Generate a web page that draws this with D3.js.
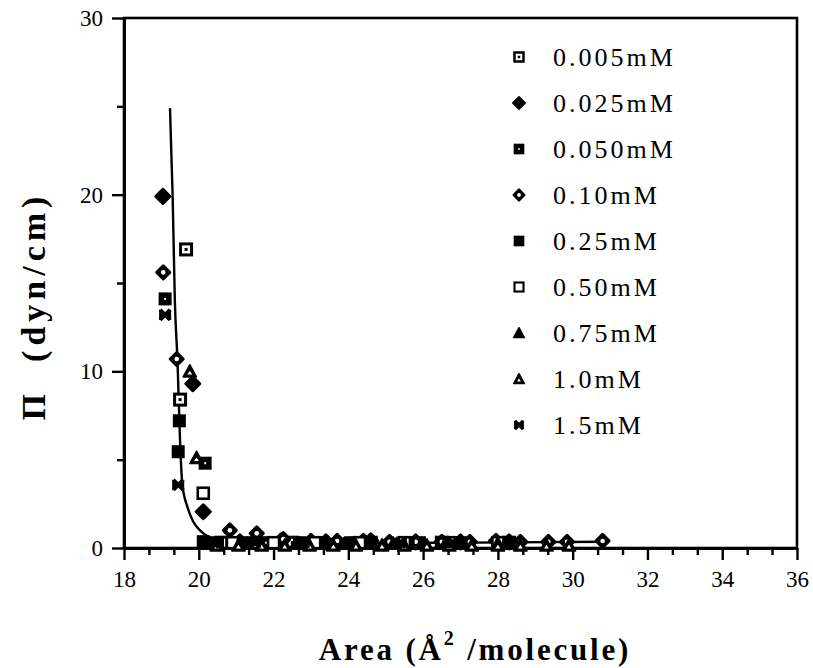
<!DOCTYPE html>
<html>
<head>
<meta charset="utf-8">
<script src="https://cdn.jsdelivr.net/npm/d3@7"></script>
<style>
  html, body { margin: 0; padding: 0; background: #fff; }
  svg { display: block; }
  text { font-family: "Liberation Serif", "Times New Roman", serif; fill: #000; }
</style>
</head>
<body>
<svg id="chart" width="813" height="668"></svg>
<script>
// ---- data ----
const seriesLabels = ["0.005mM","0.025mM","0.050mM","0.10mM","0.25mM","0.50mM","0.75mM","1.0mM","1.5mM"];
const seriesShapes = ["sqdot","diamond","sqfilldot","diamondhole","sqfill","sqopen","trifill","triopen","bowtie"];

const s0005 = [[19.66,16.9],[19.50,8.4],[20.60,0.30],[22.50,0.30],[24.60,0.30],[26.50,0.30],[28.30,0.30]];
const s0025 = [[19.04,19.9],[19.84,9.3],[20.12,2.05],[21.10,0.35],[22.20,0.40],[23.40,0.35],[24.60,0.40],[25.80,0.35],[27.00,0.35],[28.30,0.35]];
const s0050 = [[19.10,14.1],[20.17,4.8],[20.50,0.30],[21.80,0.30],[23.20,0.30],[24.50,0.30],[25.90,0.30],[27.10,0.30],[28.20,0.30]];
const s010  = [[19.05,15.6],[19.41,10.7],[20.83,1.0],[21.55,0.83],[22.26,0.50],[23.00,0.40],[23.70,0.40],[24.40,0.40],[25.10,0.35],[25.80,0.35],[26.50,0.35],[27.25,0.35],[27.95,0.40],[28.60,0.35],[29.35,0.35],[29.85,0.35],[30.80,0.40]];
const s025  = [[19.48,7.2],[19.45,5.45],[20.12,0.36],[21.30,0.30],[22.70,0.30],[24.10,0.30],[25.60,0.30],[26.90,0.30],[28.10,0.30]];
const s050  = [[20.12,3.1],[20.90,0.30],[22.00,0.30],[23.10,0.30],[24.30,0.30],[25.50,0.30],[26.70,0.30],[28.00,0.30]];
const s075  = [[20.30,0.25],[21.30,0.25],[22.60,0.25],[23.90,0.25],[25.20,0.25],[26.60,0.25],[28.00,0.25]];
const s10   = [[19.76,10.0],[19.94,5.1],[20.48,0.15],[21.06,0.15],[21.68,0.15],[22.30,0.15],[22.96,0.15],[23.60,0.15],[24.20,0.15],[24.90,0.15],[25.50,0.15],[26.10,0.15],[26.70,0.15],[27.30,0.15],[28.00,0.15],[28.60,0.15],[29.30,0.15],[29.90,0.15]];
const s15   = [[19.10,13.2],[19.45,3.57],[20.40,0.30],[21.50,0.30],[22.80,0.30],[24.00,0.30],[25.40,0.30],[26.80,0.30]];
const seriesValues = [s0005, s0025, s0050, s010, s025, s050, s075, s10, s15];

// fitted isotherm curve
const fitCurve = [[19.23,24.9],[19.30,20],[19.36,14],[19.43,10.6],[19.50,6.0],[19.56,3.6],[19.70,2.3],[19.85,1.5],[20.03,1.0],[20.25,0.65],[20.50,0.45],[21.0,0.35],[22.0,0.30],[26.0,0.30],[30.9,0.35]];

const xTickLabels = [18,20,22,24,26,28,30,32,34,36];
const yTickLabels = [0,10,20,30];
const yMinorTicks = [5,15,25];

// ---- layout ----
const svg = d3.select("#chart");
const x = d3.scaleLinear().domain([18,36]).range([124,797]);
const y = d3.scaleLinear().domain([0,30]).range([548,18]);

// frame
svg.append("rect")
  .attr("x", x(18)).attr("y", y(30))
  .attr("width", x(36)-x(18)).attr("height", y(0)-y(30))
  .attr("fill","none").attr("stroke","#000").attr("stroke-width",2.6);

// x axis
const xMinor = d3.range(0, 28).map(i => 18 + i*2/3).filter(v => v <= 36.01 && Math.abs(v - Math.round(v/2)*2) > 0.01);
const gxMinor = svg.append("g").attr("transform",`translate(0,${y(0)})`)
  .call(d3.axisBottom(x).tickValues(xMinor).tickSize(7).tickSizeOuter(0).tickFormat(""));
const gx = svg.append("g").attr("transform",`translate(0,${y(0)})`)
  .call(d3.axisBottom(x).tickValues(xTickLabels).tickSize(12).tickSizeOuter(0).tickPadding(10).tickFormat(d3.format("d")));

// y axis
const gyMinor = svg.append("g").attr("transform",`translate(${x(18)},0)`)
  .call(d3.axisLeft(y).tickValues(yMinorTicks).tickSize(7).tickSizeOuter(0).tickFormat(""));
const gy = svg.append("g").attr("transform",`translate(${x(18)},0)`)
  .call(d3.axisLeft(y).tickValues(yTickLabels).tickSize(12).tickSizeOuter(0).tickPadding(9).tickFormat(d3.format("d")));

[gx, gxMinor, gy, gyMinor].forEach(g => {
  g.select(".domain").attr("stroke","#000").attr("stroke-width",2.6);
  g.selectAll(".tick line").attr("stroke","#000").attr("stroke-width",2.4);
  g.selectAll(".tick text").attr("font-family",'"Liberation Serif", serif').attr("font-size",23).attr("fill","#000");
});
gx.selectAll(".tick text").attr("dy","0.75em");

// fitted curve
const line = d3.line().x(d => x(d[0])).y(d => y(d[1])).curve(d3.curveMonotoneX);
svg.append("path").datum(fitCurve).attr("d", line)
  .attr("fill","none").attr("stroke","#000").attr("stroke-width",2.4);

// markers
function drawMarker(g, shape, k) {
  const s = v => v * k;
  switch (shape) {
    case "sqdot":
      g.append("rect").attr("x",s(-5.5)).attr("y",s(-5.5)).attr("width",s(11)).attr("height",s(11))
        .attr("fill","#fff").attr("stroke","#000").attr("stroke-width",s(3));
      g.append("rect").attr("x",s(-1.5)).attr("y",s(-1.5)).attr("width",s(3)).attr("height",s(3)).attr("fill","#000");
      break;
    case "diamond":
      g.append("path").attr("d",`M0,${s(-7)}L${s(7)},0L0,${s(7)}L${s(-7)},0Z`)
        .attr("fill","#000").attr("stroke","#000").attr("stroke-width",s(3)).attr("stroke-linejoin","round");
      break;
    case "sqfilldot":
      g.append("rect").attr("x",s(-6.5)).attr("y",s(-6.5)).attr("width",s(13)).attr("height",s(13)).attr("fill","#000");
      g.append("rect").attr("x",s(-1)).attr("y",s(-1)).attr("width",s(2)).attr("height",s(2)).attr("fill","#fff");
      break;
    case "diamondhole":
      g.append("path").attr("d",`M0,${s(-6.5)}L${s(6.5)},0L0,${s(6.5)}L${s(-6.5)},0Z`)
        .attr("fill","#000").attr("stroke","#000").attr("stroke-width",s(3)).attr("stroke-linejoin","round");
      g.append("circle").attr("r",s(2.3)).attr("fill","#fff");
      break;
    case "sqfill":
      g.append("rect").attr("x",s(-6.5)).attr("y",s(-6.5)).attr("width",s(13)).attr("height",s(13)).attr("fill","#000");
      break;
    case "sqopen":
      g.append("rect").attr("x",s(-5.5)).attr("y",s(-5.5)).attr("width",s(11)).attr("height",s(11))
        .attr("fill","#fff").attr("stroke","#000").attr("stroke-width",s(2.6));
      break;
    case "trifill":
      g.append("path").attr("d",`M0,${s(-6.5)}L${s(6.5)},${s(5.5)}L${s(-6.5)},${s(5.5)}Z`)
        .attr("fill","#000").attr("stroke","#000").attr("stroke-width",s(1.8)).attr("stroke-linejoin","round");
      break;
    case "triopen":
      g.append("path").attr("d",`M0,${s(-6.5)}L${s(6.5)},${s(5.5)}L${s(-6.5)},${s(5.5)}Z`)
        .attr("fill","#000").attr("stroke","#000").attr("stroke-width",s(1.8)).attr("stroke-linejoin","round");
      g.append("path").attr("d",`M0,${s(-0.5)}L${s(2.4)},${s(3.2)}L${s(-2.4)},${s(3.2)}Z`).attr("fill","#fff");
      break;
    case "bowtie":
      g.append("path").attr("d",`M${s(-5)},${s(-5)}L${s(5)},${s(5)}M${s(5)},${s(-5)}L${s(-5)},${s(5)}`)
        .attr("stroke","#000").attr("stroke-width",s(4)).attr("fill","none");
      g.append("path").attr("d",`M${s(-6)},${s(-5.5)}L0,${s(-2)}L${s(6)},${s(-5.5)}L${s(6)},${s(5.5)}L0,${s(2)}L${s(-6)},${s(5.5)}Z`)
        .attr("fill","#000");
      break;
  }
}

const gPts = svg.append("g");
seriesValues.forEach((vals, i) => {
  gPts.selectAll(null).data(vals).enter().append("g")
    .attr("transform", d => `translate(${x(d[0])},${y(d[1])})`)
    .each(function() { drawMarker(d3.select(this), seriesShapes[i], 1); });
});

// legend
const legend = svg.append("g");
seriesLabels.forEach((lab, i) => {
  const ly = 57 + i*46;
  const mg = legend.append("g").attr("transform",`translate(519,${ly})`);
  drawMarker(mg, seriesShapes[i], 0.82);
  legend.append("text").attr("x",553).attr("y",ly+9)
    .attr("font-size",26).attr("letter-spacing","3px").text(lab);
});

// axis titles
const xt = svg.append("text").attr("x",475).attr("y",660).attr("text-anchor","middle")
  .attr("font-size",31).attr("font-weight","bold").attr("letter-spacing","2.8px");
xt.append("tspan").text("Area  (Å");
xt.append("tspan").attr("font-size",20).attr("dy",-15).text("2");
xt.append("tspan").attr("dy",15).text(" /molecule)");

svg.append("text").attr("transform","translate(45,306) rotate(-90)")
  .attr("text-anchor","middle").attr("font-size",34).attr("font-weight","bold").attr("letter-spacing","5px")
  .attr("xml:space","preserve")
  .text("Π  (dyn/cm)");
</script>
</body>
</html>
